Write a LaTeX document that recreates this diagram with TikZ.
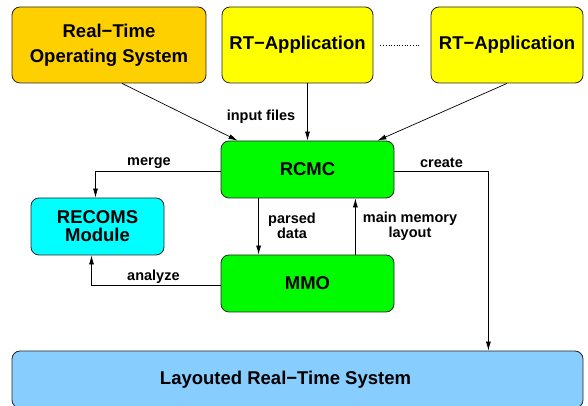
\documentclass[tikz,border=0pt]{standalone}
\usepackage{fontspec}
\setmainfont{Liberation Sans}
\usetikzlibrary{arrows.meta,calc}

\definecolor{osgold}{RGB}{255,208,0}
\definecolor{appyellow}{RGB}{255,255,0}
\definecolor{toolgreen}{RGB}{0,250,0}
\definecolor{modcyan}{RGB}{0,255,255}
\definecolor{sysblue}{RGB}{135,206,255}

\begin{document}
\begin{tikzpicture}[x=1pt,y=1pt]
	  \tikzstyle{block}=[rectangle,rounded corners=8pt,draw=black!85,line width=0.8pt,
				  align=center,inner sep=0pt,
				  font=\fontsize{18.5}{18}\selectfont\bfseries]
	  \tikzstyle{edgetext}=[align=center,inner sep=0pt,
				  font=\fontsize{14.5}{15}\selectfont\bfseries]
	  \tikzstyle{flow}=[-{Latex[length=9pt,width=5pt]},line width=0.7pt]

		\useasboundingbox (0,0) rectangle (588,406);

		% sources on top
		\node[block,fill=osgold,minimum width=194,minimum height=76] (rtos) at (109,361) {Real−Time\\[7pt]Operating System};
		\node[block,fill=appyellow,minimum width=151,minimum height=76] (app1) at (297.5,361) {\raisebox{-2pt}{RT−Application}};
		\node[block,fill=appyellow,minimum width=152,minimum height=76] (app2) at (507,361) {\raisebox{-2pt}{RT−Application}};

		% tool chain
		\node[block,fill=toolgreen,minimum width=173,minimum height=57] (rcmc) at (307.5,236.5) {RCMC};
		\node[block,fill=modcyan,minimum width=133,minimum height=57] (recoms) at (97.5,179.5) {RECOMS\\Module};
		\node[block,fill=toolgreen,minimum width=173,minimum height=57] (mmo) at (307.5,122.5) {MMO};

		% result, its text sits a bit left of the middle
		\node[block,fill=sysblue,minimum width=571,minimum height=57] (layout) at (297.5,26.5) {\hspace*{-24pt}Layouted Real−Time System};

		\draw[dotted,line width=0.7pt,shorten <=7pt,shorten >=10pt] (app1) -- (app2);

		\draw[flow] ([xshift=13pt]rtos.south) -- ([xshift=17pt]rcmc.north west);
		\draw[flow] (app1.south -| rcmc.north) -- (rcmc.north);
		\draw[flow] (app2.south) -- ([xshift=-17pt]rcmc.north east);
		\node[edgetext] (inputs) at (261,289) {input files};

		\draw[flow] ([yshift=-2pt]rcmc.west) -| ([xshift=-2pt]recoms.north);
		\node[edgetext,anchor=west] (merge) at (127,243) {merge};
		\draw[flow] ([yshift=-1.5pt]mmo.west) -| ([xshift=-6pt]recoms.south);
		\node[edgetext,anchor=west] (analyze) at (127,129) {analyze};

		\draw[flow] ([xshift=38pt]rcmc.south west) -- ([xshift=38pt]mmo.north west);
		\node[edgetext] (parsed) at (292,180) {parsed\\data};
		\draw[flow] ([xshift=-39pt]mmo.north east) -- ([xshift=-39pt]rcmc.south east);
		\node[edgetext] (memory) at (410,180) {main memory\\layout};

		\draw[flow] ([yshift=-2pt]rcmc.east) -| ([xshift=-95pt]layout.north east);
		\node[edgetext] (create) at (441.5,243) {create};
	\end{tikzpicture}
\end{document}
